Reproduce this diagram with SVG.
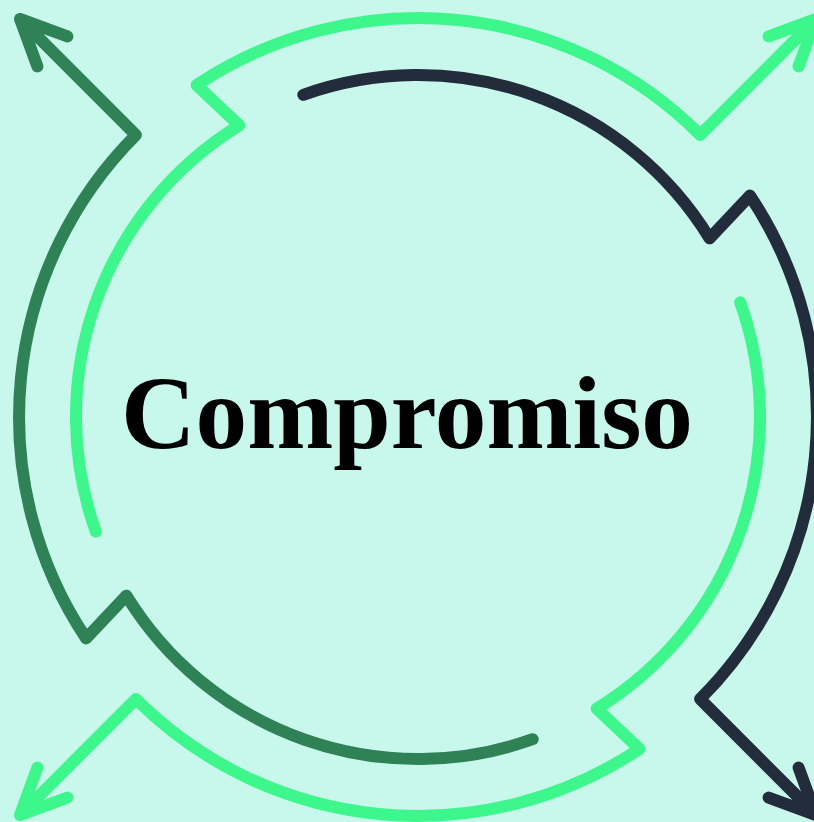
<svg xmlns="http://www.w3.org/2000/svg" width="814" height="822" viewBox="0 0 814 822">
  <defs>
    <style>
      .arc { fill: none; stroke-width: 12; stroke-linecap: round; stroke-linejoin: round; }
      .bright { stroke: #3DF78D; }
      .dark { stroke: #2E8256; }
      .navy { stroke: #222C3B; }
      .label { font-family: "Liberation Serif", "DejaVu Serif", serif; font-weight: bold; font-size: 103px; fill: #000000; }
    </style>
    <g id="arrowArc">
      <path d="M -114.7,-322.2 A 342 342 0 0 1 291.6,-178.7 L 331.9,-221.4 A 399 399 0 0 1 282.1,282.1 L 398,398 M 350.6,380.6 L 398,398 L 380.6,350.6"/>
    </g>
  </defs>
  <rect x="0" y="0" width="814" height="822" fill="#C8F7EC"/>
  <g id="connectors">
    <g id="navy-arrow" class="arc navy" transform="translate(418 417)">
      <use href="#arrowArc"/>
    </g>
    <g id="bright-arrow-bottom" class="arc bright" transform="translate(418 417) rotate(90)">
      <use href="#arrowArc"/>
    </g>
    <g id="dark-arrow" class="arc dark" transform="translate(418 417) rotate(180)">
      <use href="#arrowArc"/>
    </g>
    <g id="bright-arrow-top" class="arc bright" transform="translate(418 417) rotate(270)">
      <use href="#arrowArc"/>
    </g>
  </g>
  <g id="title">
    <text class="label" x="407" y="448" text-anchor="middle" textLength="572" lengthAdjust="spacingAndGlyphs">Compromiso</text>
  </g>
</svg>
